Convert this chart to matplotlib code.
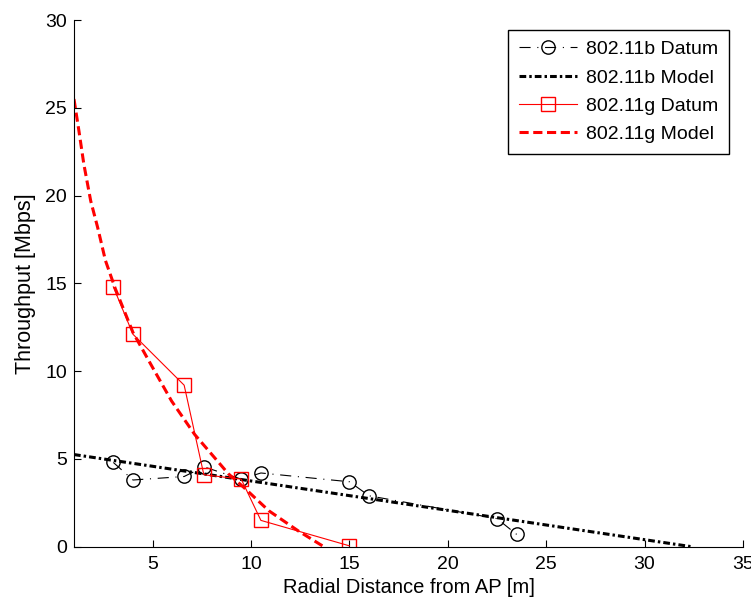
import matplotlib.pyplot as plt

plt.rcParams['font.family'] = ['Liberation Sans', 'DejaVu Sans']

# 802.11b measured points
b_dist = [3, 4, 6.6, 7.6, 9.5, 10.5, 15, 16, 22.5, 23.5]
b_tput = [4.8, 3.8, 4.0, 4.55, 3.85, 4.2, 3.7, 2.9, 1.6, 0.7]

# 802.11b model (straight line)
b_model_dist = [1, 32.4]
b_model_tput = [5.25, 0.0]

# 802.11g measured points
g_dist = [3, 4, 6.6, 7.6, 9.5, 10.5, 15]
g_tput = [14.8, 12.1, 9.2, 4.1, 3.85, 1.5, 0.05]

# 802.11g model curve
g_model_dist = [1, 1.25, 1.5, 1.85, 2.2, 2.6, 3.1, 4.0, 4.95, 5.96, 7.13, 8.85, 9.66, 10.9, 12.4, 13.7]
g_model_tput = [25.5, 23.7, 21.8, 19.7, 18.2, 16.3, 14.7, 12.2, 10.3, 8.3, 6.4, 4.15, 3.35, 2.05, 0.9, 0.0]

fig = plt.figure(figsize=(7.51, 6.0), dpi=100)
ax = fig.add_axes([0.0985, 0.0888, 0.8908, 0.8778])

ax.plot(b_dist, b_tput, color='black', linestyle=(0, (10, 6, 1, 6)), linewidth=0.8,
        marker='o', markersize=9.6, markerfacecolor='none', markeredgewidth=1,
        label='802.11b Datum')
ax.plot(b_model_dist, b_model_tput, color='black', linestyle=(0, (2.2, 1, 0.8, 1)),
        linewidth=2.2, label='802.11b Model')
ax.plot(g_dist, g_tput, color='red', linestyle='-', linewidth=0.8,
        marker='s', markersize=9.5, markerfacecolor='none', markeredgewidth=1,
        label='802.11g Datum')
ax.plot(g_model_dist, g_model_tput, color='red', linestyle=(0, (3, 1.5)),
        linewidth=2.2, label='802.11g Model')

ax.set_xlim(1, 35)
ax.set_ylim(0, 30)
ax.set_xticks([5, 10, 15, 20, 25, 30, 35])
ax.set_yticks([0, 5, 10, 15, 20, 25, 30])
ax.tick_params(direction='in', length=5, labelsize=14)
ax.tick_params(axis='x', pad=7)
ax.tick_params(axis='y', pad=5)
ax.spines['top'].set_visible(False)
ax.spines['right'].set_visible(False)

ax.set_xlabel('Radial Distance from AP [m]', fontsize=14.5, labelpad=3)
ax.set_ylabel('Throughput [Mbps]', fontsize=15.5, labelpad=7)

leg = ax.legend(loc='upper right', bbox_to_anchor=(729 / 751, 1 - 30 / 600),
                bbox_transform=fig.transFigure, borderaxespad=0,
                fontsize=14, handlelength=3, fancybox=False,
                edgecolor='black', framealpha=1, borderpad=0.55,
                labelspacing=0.55, handletextpad=0.45)
leg.get_frame().set_linewidth(1)

plt.savefig('out.png', dpi=100)
